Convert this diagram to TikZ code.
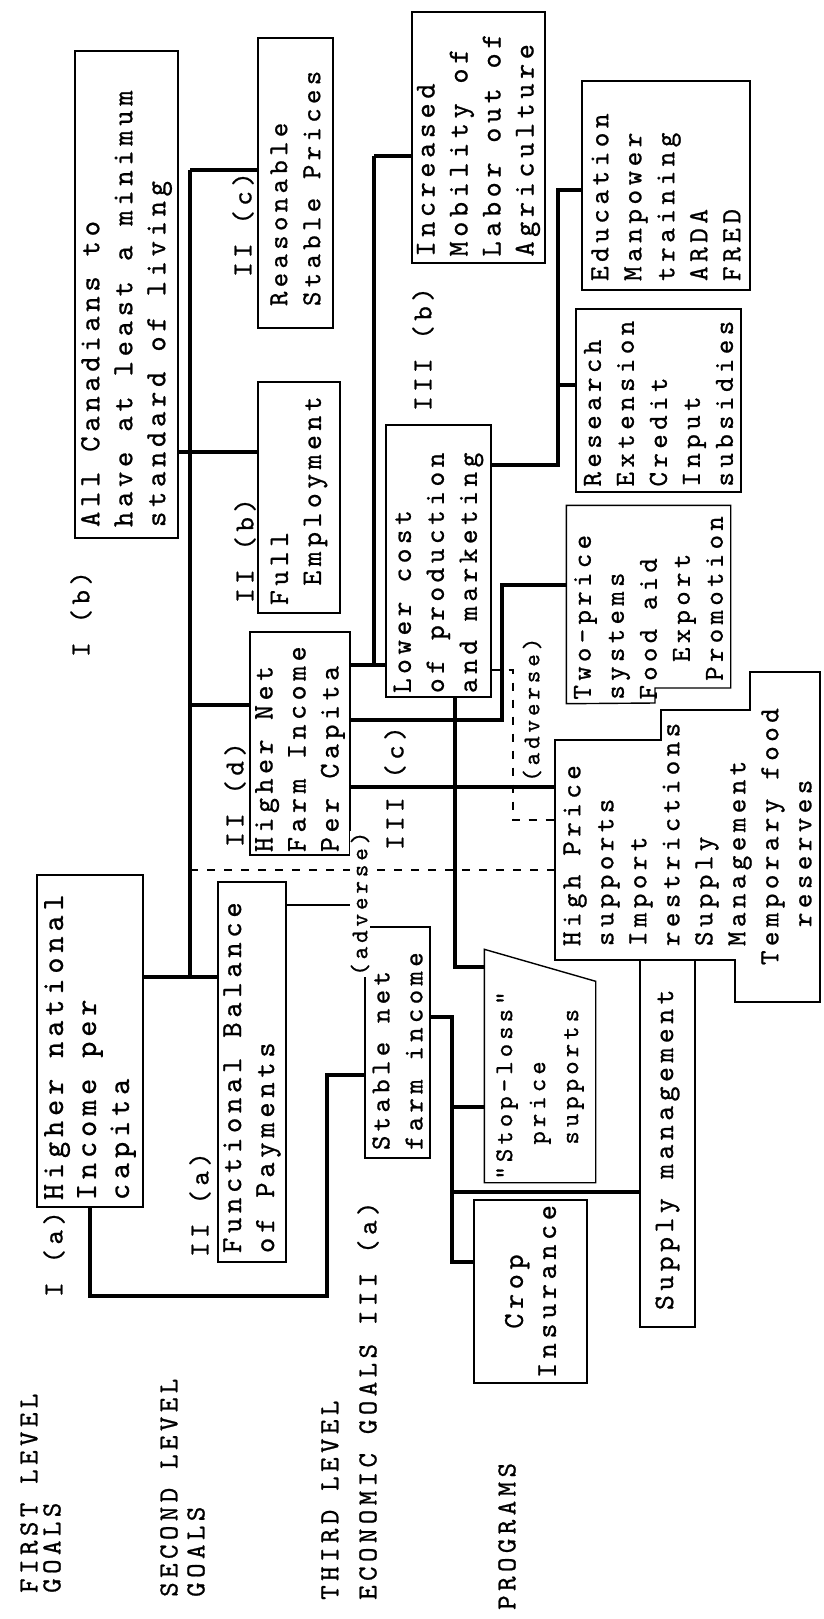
\documentclass[tikz,border=0pt]{standalone}
\usepackage{fontspec}
\newfontfamily\tw{lmmono10-regular}[Extension=.otf,LetterSpace=16,FakeBold=0.8]
\newcommand\twset[2]{\tw\fontsize{#1}{#2}\selectfont\spaceskip=0.685em\relax}
\usetikzlibrary{calc}
\tikzset{
  goal/.style={draw,line width=1.4pt,rotate=90,align=left,inner sep=0pt,font=\twset{#1}{33},
    execute at begin node={\spaceskip=0.685em\xspaceskip=0.685em\relax}},
  lab/.style={rotate=90,anchor=west,inner sep=0pt,font=\twset{27.6}{33}},
  advlab/.style={lab,font=\twset{24}{30}},
  tree/.style={line width=3.4pt},
  edge/.style={line width=1.4pt},
  adv/.style={line width=2.4pt,dash pattern=on 8pt off 9pt},
}

\begin{document}
\begin{tikzpicture}[x=1pt,y=-1pt]
  \useasboundingbox (0,0) rectangle (824,1619);
  % level titles
  \node[lab] (lvl1a) at (29,1593) {FIRST LEVEL};
  \node[lab] (lvl1b) at (52,1593) {GOALS};
  \node[lab] (lvl2a) at (169,1597) {SECOND LEVEL};
  \node[lab] (lvl2b) at (196,1597) {GOALS};
  \node[lab] (lvl3a) at (330,1600) {THIRD LEVEL};
  \node[lab] (lvl3b) at (368,1600) {ECONOMIC GOALS III (a)};
  \node[lab] (lvl4) at (507,1610) {PROGRAMS};

  % first level goals
  \node[goal=30.7,text width=318pt,minimum width=332pt,minimum height=106pt] (Ia) at (90,1041) {Higher national\\Income per\\capita};
  \node[lab] (lIa) at (54,1297) {I (a)};
  \node[goal=29.2,text width=465pt,minimum width=487pt,minimum height=103pt] (Ib) at (126.5,294.5) {All Canadians to\\have at least a minimum\\standard of living};
  \node[lab] (lIb) at (81,657) {I (b)};

  % second level goals
  \node[goal=29.2,text width=362pt,minimum width=380pt,minimum height=68pt] (IIa) at (252,1072) {Functional Balance\\of Payments};
  \node[lab] (lIIa) at (200,1257) {II (a)};
  \node[goal=28.3,text width=215pt,minimum width=231pt,minimum height=82pt] (IIb) at (299,497.5) {Full\\~Employment};
  \node[lab] (lIIb) at (245,603) {II (b)};
  \node[goal=27.4,text width=246pt,minimum width=290pt,minimum height=75pt] (IIc) at (295.5,183) {Reasonable\\Stable Prices};
  \node[lab] (lIIc) at (243,277) {II (c)};
  \node[goal=28.5,text width=217pt,minimum width=223pt,minimum height=100pt] (IId) at (300,743.5) {Higher Net\\Farm Income\\Per Capita};
  \node[lab] (lIId) at (235,847) {II (d)};

  % third level goals
  \node[goal=27.4,text width=215pt,minimum width=231pt,minimum height=65pt] (IIIa) at (397.5,1042.5) {Stable net\\farm income};
  \node[goal=28.8,text width=238pt,minimum width=251pt,minimum height=133pt] (IIIb) at (478.5,137.5) {Increased\\Mobility of\\Labor out of\\Agriculture};
  \node[lab] (lIIIb) at (423,411) {III (b)};
  \node[goal=28,text width=264pt,minimum width=272pt,minimum height=105pt] (IIIc) at (438.5,561) {Lower cost\\of production\\and marketing};
  \node[lab] (lIIIc) at (395,850) {III (c)};

  % programs
  \node[goal=28.8,align=center,text width=180pt,minimum width=183pt,minimum height=113pt] (crop) at (530.5,1291.5) {Crop\\Insurance};
  \node[goal=25.5,draw=none,text width=195pt,minimum width=200pt,minimum height=110pt] (stop) at (540,1082) {"Stop-loss"\\~~price\\~~supports};
  \node[goal=28.3,text width=333pt,minimum width=367pt,minimum height=55pt] (supply) at (667.5,1143.5) {Supply management};
  \node[goal=27.7,draw=none,text width=268pt,minimum width=266pt,minimum height=265pt] (hps) at (687.5,831) {~High Price\\~supports\\~Import\\~restrictions\\~Supply\\~Management\\Temporary food\\~~reserves};
  \node[goal=27.4,draw=none,text width=190pt,minimum width=197pt,minimum height=163pt] (two) at (648.5,604.5) {Two-price\\systems\\Food aid\\~~Export\\~Promotion};
  \node[goal=27.6,text width=172pt,minimum width=183pt,minimum height=165pt] (res) at (658.5,400.5) {Research\\Extension\\Credit\\Input\\subsidies};
  \node[goal=27.9,text width=191pt,minimum width=209pt,minimum height=168pt] (edu) at (666,185.5) {Education\\Manpower\\training\\ARDA\\FRED};

  % cut paper outlines
  \draw[edge] (stop.north west) -- ($(stop.north east)+(0,-32)$) -- (stop.south east) -- (stop.south west) -- cycle;
  \draw[edge] (two.north west) -- (two.north east) -- (two.south east) -- (two.south east |- 0,688) -- (655,688) -- (655,703) -- cycle;
  \draw[edge] (555,740) -- (661,740) -- (661,710) -- (750,710) -- (750,672) -- (820,672) -- (820,1002) -- (735,1002) -- (735,960) -- (555,960) -- cycle;
  \draw[edge] (IId.south west) |- (IIa.south |- 0,905);

  % second level bus
  \coordinate (b2t) at (190,170);
  \coordinate (b2b) at (190,977);
  \draw[tree] (b2t) -- (b2b);
  \draw[tree] (b2t) -- (IIc.north |- b2t);
  \draw[tree] (Ib.south |- 0,452) -- (IIb.north |- 0,452);
  \draw[tree] (b2b |- 0,705) -- (IId.north |- 0,705);
  \draw[tree] (Ia.south |- b2b) -- (IIa.north |- b2b);
  \coordinate (c1) at (327,1296);
  \draw[tree] (Ia.west) |- (c1) |- (IIIa.north |- 0,1075);

  % third level bus
  \coordinate (b3t) at (374,156);
  \coordinate (b3b) at (374,665);
  \draw[tree] (b3t) -- (b3b);
  \draw[tree] (b3t) -- (IIIb.north |- b3t);
  \draw[tree] (IId.south |- b3b) -- (IIIc.north |- b3b);
  \coordinate (c2) at (502,720);
  \draw[tree] (IId.south |- c2) -- (c2) |- (two.north |- 0,585);
  \draw[tree] (IId.south |- 0,787) -- (hps.north |- 0,787);

  % goals to programs
  \coordinate (c3) at (455,967);
  \draw[tree] (c3 |- IIIc.west) -- (c3) -- (stop.north |- c3);
  \coordinate (c4) at (558,465);
  \coordinate (c4t) at (558,190);
  \draw[tree] (IIIc.south |- c4) -- (c4) -- (c4t) -- (edu.north |- c4t);
  \draw[tree] (c4 |- 0,385) -- (res.north |- 0,385);
  \coordinate (c5) at (452,1017);
  \coordinate (c5b) at (452,1262);
  \draw[tree] (IIIa.south |- c5) -- (c5) -- (c5b) -- (crop.north |- c5b);
  \draw[tree] (c5 |- 0,1107) -- (stop.north |- 0,1107);
  \draw[tree] (c5 |- 0,1192) -- (supply.north |- 0,1192);

  % adverse effects
  \draw[adv] (b2b |- 0,870) -- (hps.north |- 0,870);
  \coordinate (d2) at (513,670);
  \coordinate (d2b) at (513,820);
  \draw[adv] (IIIc.south |- d2) -- (d2) -- (d2b) -- (hps.north |- d2b);
  \node[advlab,fill=white,inner sep=1pt] (adv1) at (360,977) {(adverse)};
  \node[advlab] (adv2) at (532,782) {(adverse)};
\end{tikzpicture}
\end{document}
